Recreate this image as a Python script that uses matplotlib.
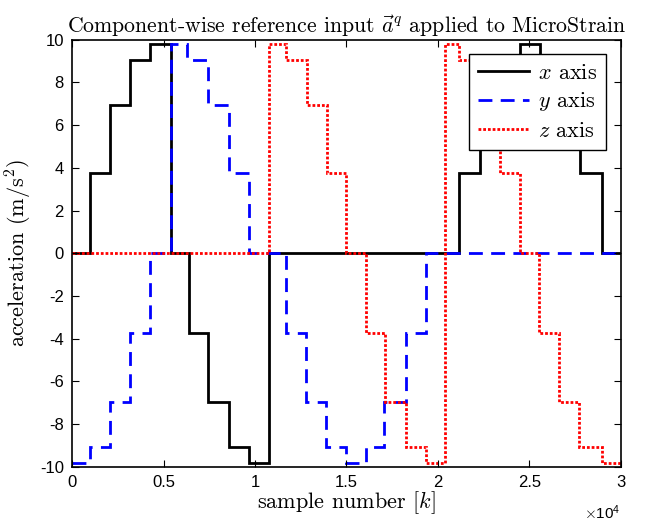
import matplotlib.pyplot as plt

plt.rcParams['mathtext.fontset'] = 'cm'
plt.rcParams['axes.unicode_minus'] = False

# step edges (samples) and levels (m/s^2) for each component
x_edges = [0, 1000, 2050, 3150, 4270, 5380, 6380, 7450, 8560, 9650, 10780,
           21150, 22320, 23420, 24510, 25600, 26690, 27780, 28960, 30000]
x_vals = [0, 3.75, 6.94, 9.06, 9.81, 0, -3.75, -6.94, -9.06, -9.81, 0,
          3.75, 6.94, 9.06, 9.81, 9.06, 6.94, 3.75, 0]

y_edges = [0, 1000, 2050, 3150, 4270, 5380, 6290, 7450, 8560, 9650, 11720,
           12800, 13900, 14980, 16050, 17080, 18230, 19360, 30000]
y_vals = [-9.81, -9.06, -6.94, -3.75, 0, 9.81, 9.06, 6.94, 3.75, 0, -3.75,
          -6.94, -9.06, -9.81, -9.06, -6.94, -3.75, 0]

z_edges = [0, 10780, 11720, 12830, 13920, 15000, 16050, 17120, 18230, 19360,
           20410, 21150, 22320, 23420, 24510, 25550, 26640, 27730, 28960, 30000]
z_vals = [0, 9.81, 9.06, 6.94, 3.75, 0, -3.75, -6.94, -9.06, -9.81, 9.81,
          9.06, 6.94, 3.75, 0, -3.75, -6.94, -9.06, -9.81]

xticks = [0, 5000, 10000, 15000, 20000, 25000, 30000]
xtick_labels = ["0", "0.5", "1", "1.5", "2", "2.5", "3"]
yticks = [-10, -8, -6, -4, -2, 0, 2, 4, 6, 8, 10]

fig = plt.figure(figsize=(6.5, 5.3), dpi=100)
ax = fig.add_axes([0.111, 0.119, 0.844, 0.806])

ax.stairs(x_vals, x_edges, baseline=None, color='black', lw=2, label=r'$x$ axis')
ax.stairs(y_vals, y_edges, baseline=None, color='blue', lw=2,
          linestyle=(0, (5, 3)), label=r'$y$ axis')
ax.stairs(z_vals, z_edges, baseline=None, color='red', lw=2,
          linestyle=(0, (1, 0.7)), label=r'$z$ axis')

ax.set_xlim(0, 30000)
ax.set_ylim(-10, 10)
ax.set_xticks(xticks)
ax.set_xticklabels(xtick_labels)
ax.set_yticks(yticks)
ax.tick_params(direction='in', top=True, right=True, length=5,
               labelsize=12, pad=6)
for lab in ax.get_xticklabels() + ax.get_yticklabels():
    lab.set_family('Liberation Sans')
for s in ax.spines.values():
    s.set_linewidth(1.2)

ax.text(1.0, -0.085, r'$\times\mathregular{10^4}$', transform=ax.transAxes,
        ha='right', va='top', fontsize=11, family='Liberation Sans')

ax.set_title(r'Component-wise reference input $\vec{a}^q$ applied to MicroStrain',
             family='cmr10', fontsize=15.7, pad=5)
ax.set_xlabel(r'sample number $[k]$', family='cmr10', fontsize=16, labelpad=-1)
ax.set_ylabel(r'acceleration (m/s$^2$)', family='cmr10', fontsize=16, labelpad=4)

leg = ax.legend(loc='upper right', prop={'family': 'cmr10', 'size': 16},
                fancybox=False, framealpha=1, edgecolor='black',
                handlelength=2.3, handletextpad=0.4, borderpad=0.4,
                borderaxespad=0.65, labelspacing=0.35)
leg.get_frame().set_linewidth(1)

fig.savefig('out.png', dpi=100)
